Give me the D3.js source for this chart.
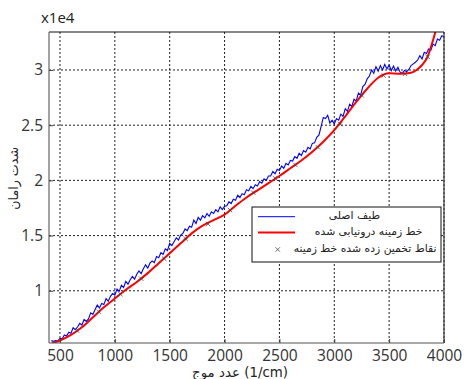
<!DOCTYPE html>
<html>
<head>
<meta charset="utf-8">
<script src="https://cdn.jsdelivr.net/npm/d3@7"></script>
<style>
  html, body { margin: 0; padding: 0; background: #fff; }
  #chart { position: relative; width: 474px; height: 379px; }
  svg { display: block; position: absolute; left: 0; top: 0; }
  .ar { position: absolute; white-space: nowrap; line-height: 1; color: #222;
        font-family: 'DejaVu Sans', sans-serif; }
</style>
</head>
<body>
<div id="chart"></div>
<script>
// ---------- data (intensity in units of 1e4) ----------
const xTicks = [500, 1000, 1500, 2000, 2500, 3000, 3500, 4000];
const yTicks = [1, 1.5, 2, 2.5, 3];
const yTickLabels = ["1", "1.5", "2", "2.5", "3"];

// original spectrum sampled every 20 1/cm from 420
const blueStart = 420, blueStep = 20;
const blueValues = [
  0.548, 0.542, 0.55, 0.545, 0.57, 0.565, 0.60, 0.59, 0.625, 0.615,
  0.665, 0.648, 0.672, 0.705, 0.69, 0.74, 0.722, 0.745, 0.80, 0.785,
  0.83, 0.87, 0.845, 0.885, 0.875, 0.93, 0.905, 0.95, 0.975, 0.96,
  1.015, 0.995, 1.05, 1.03, 1.085, 1.06, 1.10, 1.13, 1.105, 1.15,
  1.18, 1.155, 1.20, 1.235, 1.205, 1.25, 1.27, 1.255, 1.31, 1.30,
  1.345, 1.33, 1.38, 1.365, 1.43, 1.41, 1.445, 1.48, 1.46, 1.505,
  1.52, 1.56, 1.545, 1.585, 1.575, 1.64, 1.61, 1.665, 1.64, 1.68,
  1.66, 1.70, 1.675, 1.715, 1.70, 1.735, 1.715, 1.76, 1.735, 1.765,
  1.77, 1.805, 1.79, 1.83, 1.82, 1.865, 1.845, 1.88, 1.87, 1.915,
  1.905, 1.945, 1.925, 1.96, 1.95, 1.99, 1.975, 2.015, 2.00, 2.04,
  2.04, 2.08, 2.06, 2.10, 2.09, 2.13, 2.11, 2.155, 2.14, 2.18,
  2.175, 2.215, 2.20, 2.245, 2.225, 2.27, 2.255, 2.30, 2.285, 2.335,
  2.34, 2.39, 2.41, 2.49, 2.57, 2.56, 2.59, 2.52, 2.545, 2.51,
  2.56, 2.545, 2.60, 2.58, 2.65, 2.625, 2.69, 2.67, 2.735, 2.72,
  2.79, 2.77, 2.85, 2.87, 2.92, 2.945, 3.00, 2.97, 3.03, 2.99,
  3.04, 3.00, 3.05, 3.01, 3.045, 2.995, 3.035, 2.99, 3.025, 2.98,
  2.97, 2.995, 2.985, 3.005, 3.04, 3.055, 3.07, 3.09, 3.13, 3.10,
  3.16, 3.15, 3.19, 3.18, 3.235, 3.22, 3.28, 3.27, 3.31, 3.30
];

// interpolated baseline
const redX = [427, 500, 600, 700, 800, 900, 1000, 1100, 1200, 1300, 1400, 1500, 1600, 1700, 1800, 1900, 2000,
  2100, 2200, 2300, 2400, 2500, 2600, 2700, 2800, 2900, 3000, 3100, 3200, 3300, 3400, 3500, 3600, 3700,
  3750, 3800, 3850, 3900, 3950];
const redY = [0.525, 0.55, 0.60, 0.67, 0.76, 0.85, 0.93, 1.01, 1.08, 1.16, 1.25, 1.34, 1.43, 1.52, 1.59, 1.64, 1.69,
  1.77, 1.845, 1.91, 1.975, 2.04, 2.11, 2.18, 2.26, 2.35, 2.455, 2.58, 2.71, 2.83, 2.93, 2.97, 2.965, 2.975,
  3.0, 3.045, 3.12, 3.27, 3.45];

// estimated baseline points
const markX = [450, 655, 855, 1050, 1240, 1450, 1645, 1850, 2050, 2260, 2460, 2645, 2850, 3055, 3250, 3450, 3645, 3850];
const markY = [0.53, 0.64, 0.81, 0.97, 1.11, 1.29, 1.47, 1.605, 1.73, 1.89, 2.02, 2.14, 2.30, 2.51, 2.77, 2.95, 2.965, 3.12];

const legendLabels = ["طیف اصلی", "خط زمینه درونیابی شده", "نقاط تخمین زده شده خط زمینه"];
const xLabel = "عدد موج (1/cm)";
const yLabel = "شدت رامان";
const scaleLabel = "x1e4";

// ---------- layout ----------
const W = 474, H = 379;
const L = 49, R = 444, T = 32, B = 343;
const numFont = "'Open Sans', 'Liberation Sans', sans-serif";

const root = d3.select("#chart");
const svg = root.append("svg").attr("width", W).attr("height", H);

const x = d3.scaleLinear().domain([400, 4000]).range([L, R]);
const y = d3.scaleLinear().domain([0.527, 3.344]).range([B, T]);

svg.append("defs").append("clipPath").attr("id", "clip")
  .append("rect").attr("x", L).attr("y", T).attr("width", R - L).attr("height", B - T);

// HTML label whose right edge sits at rightX, vertically centred at cy
function htmlRight(text, fs, rightX, cy) {
  const el = root.append("div").attr("class", "ar")
    .style("font-size", fs + "px").style("right", (W - rightX) + "px").style("top", "0px").text(text);
  const h = el.node().offsetHeight;
  el.style("top", (cy - h / 2) + "px");
  return el;
}
function measure(text, fs) {
  const el = root.append("span").attr("class", "ar").style("font-size", fs + "px")
    .style("left", "0px").style("top", "0px").style("visibility", "hidden").text(text);
  const w = el.node().getBoundingClientRect().width;
  el.remove();
  return w;
}

// grid
const grid = svg.append("g");
grid.selectAll(".vg").data(xTicks).join("line")
  .attr("x1", d => x(d)).attr("x2", d => x(d)).attr("y1", T).attr("y2", B)
  .attr("stroke", "#222").attr("stroke-width", 1).attr("stroke-dasharray", "2,2");
grid.selectAll(".hg").data(yTicks).join("line")
  .attr("x1", L).attr("x2", R).attr("y1", d => y(d)).attr("y2", d => y(d))
  .attr("stroke", "#222").attr("stroke-width", 1).attr("stroke-dasharray", "2,2");

// blue spectrum
const blueData = blueValues.map((v, i) => [blueStart + i * blueStep, v]);
const line = d3.line().x(d => x(d[0])).y(d => y(d[1]));
const plot = svg.append("g").attr("clip-path", "url(#clip)");
plot.append("path").datum(blueData).attr("d", line)
  .attr("fill", "none").attr("stroke", "#0000ff").attr("stroke-width", 1.1);

// red baseline
const redData = redX.map((v, i) => [v, redY[i]]);
plot.append("path").datum(redData).attr("d", d3.line().x(d => x(d[0])).y(d => y(d[1])).curve(d3.curveMonotoneX))
  .attr("fill", "none").attr("stroke", "#ff0000").attr("stroke-width", 2);

// markers
const markData = markX.map((v, i) => [v, markY[i]]);
plot.selectAll(".mk").data(markData).join("path")
  .attr("d", d => {
    const cx = x(d[0]), cy = y(d[1]), s = 2.2;
    return `M${cx - s},${cy - s}L${cx + s},${cy + s}M${cx - s},${cy + s}L${cx + s},${cy - s}`;
  })
  .attr("stroke", "#444").attr("stroke-width", 0.8).attr("fill", "none");

// frame
svg.append("line").attr("x1", L).attr("x2", R).attr("y1", T).attr("y2", T).attr("stroke", "#111").attr("stroke-width", 1.2);
svg.append("line").attr("x1", R).attr("x2", R).attr("y1", T).attr("y2", B).attr("stroke", "#333").attr("stroke-width", 1.2);
svg.append("line").attr("x1", L).attr("x2", L).attr("y1", T).attr("y2", B).attr("stroke", "#666").attr("stroke-width", 1.2);
svg.append("line").attr("x1", L).attr("x2", R).attr("y1", B).attr("y2", B).attr("stroke", "#555").attr("stroke-width", 1.2);

// axes (ticks inward, labels)
const xAxis = d3.axisBottom(x).tickValues(xTicks).tickSize(-4).tickPadding(7).tickFormat(d3.format("d"));
const gx = svg.append("g").attr("transform", `translate(0,${B})`).call(xAxis);
gx.select(".domain").remove();
gx.selectAll("line").attr("stroke", "#444");
gx.selectAll("text").attr("font-family", numFont).attr("font-size", 15.5).attr("fill", "#333");

const yAxis = d3.axisLeft(y).tickValues(yTicks).tickSize(-4).tickPadding(6)
  .tickFormat((d, i) => yTickLabels[i]);
const gy = svg.append("g").attr("transform", `translate(${L},0)`).call(yAxis);
gy.select(".domain").remove();
gy.selectAll("line").attr("stroke", "#444");
gy.selectAll("text").attr("font-family", numFont).attr("font-size", 15.5).attr("fill", "#333");

// scale label
svg.append("text").attr("x", 41).attr("y", 23).text(scaleLabel)
  .attr("font-family", numFont).attr("font-size", 15).attr("fill", "#222");

// legend
const lg = svg.append("g");
const lgL = 252, lgT = 207, lgR = 441, lgB = 262;
lg.append("rect").attr("x", lgL).attr("y", lgT).attr("width", lgR - lgL).attr("height", lgB - lgT)
  .attr("fill", "#fff").attr("stroke", "#111").attr("stroke-width", 1);
const rowY = [216.7, 232.5, 249.5];
const rowRight = [380, 422.5, 436.5];
lg.append("line").attr("x1", 258).attr("x2", 295).attr("y1", rowY[0]).attr("y2", rowY[0])
  .attr("stroke", "#0000ff").attr("stroke-width", 1);
lg.append("line").attr("x1", 258).attr("x2", 295).attr("y1", rowY[1]).attr("y2", rowY[1])
  .attr("stroke", "#ff0000").attr("stroke-width", 2);
{
  const cx = 277.7, cy = rowY[2], s = 2.2;
  lg.append("path").attr("d", `M${cx - s},${cy - s}L${cx + s},${cy + s}M${cx - s},${cy + s}L${cx + s},${cy - s}`)
    .attr("stroke", "#444").attr("stroke-width", 0.8);
}
// common legend font size so the longest entry spans its width in the reference
const legFs = Math.min(12, 12 * 143 / measure(legendLabels[2], 12));
legendLabels.forEach((t, i) => htmlRight(t, legFs, rowRight[i], rowY[i] - 0.5));

// axis labels
const xFs = 12 * 96 / measure(xLabel, 12);
htmlRight(xLabel, xFs, 288, 372.5);
const yFs = 12 * 63 / measure(yLabel, 12);
{
  const el = root.append("div").attr("class", "ar").style("font-size", yFs + "px")
    .style("left", "0px").style("top", "0px").text(yLabel);
  const n = el.node(); const w = n.offsetWidth, h = n.offsetHeight;
  el.style("left", (14.5 - w / 2) + "px").style("top", (178.5 - h / 2) + "px")
    .style("transform", "rotate(-90deg)").style("transform-origin", "50% 50%");
}
</script>
</body>
</html>
